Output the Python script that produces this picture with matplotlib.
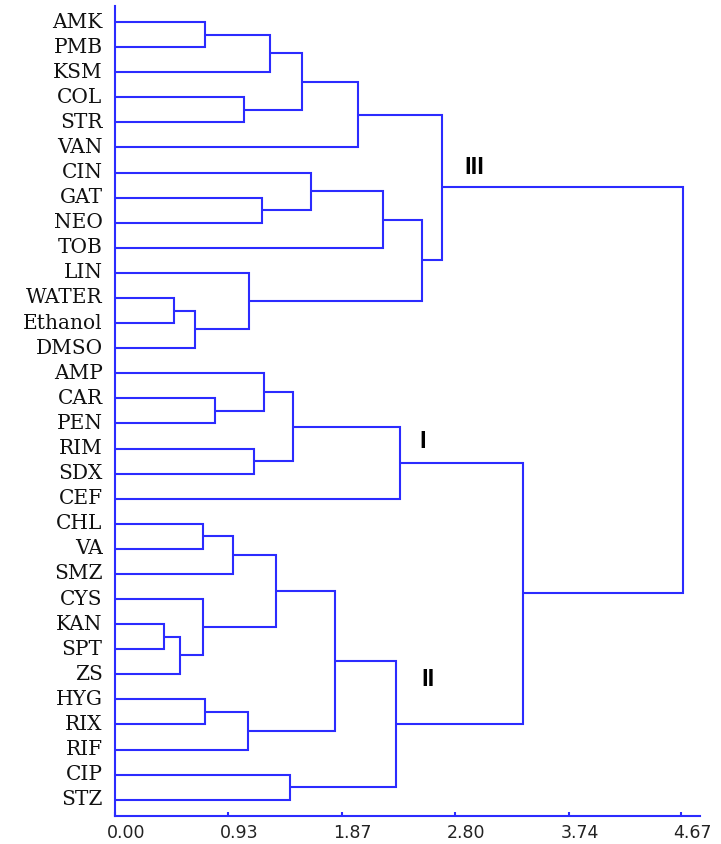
import matplotlib
matplotlib.use("Agg")
import matplotlib.pyplot as plt
import matplotlib.transforms as mtransforms

# ---- data ----
leaf_labels = ["AMK", "PMB", "KSM", "COL", "STR", "VAN", "CIN", "GAT", "NEO", "TOB",
               "LIN", "WATER", "Ethanol", "DMSO", "AMP", "CAR", "PEN", "RIM", "SDX", "CEF",
               "CHL", "VA", "SMZ", "CYS", "KAN", "SPT", "ZS", "HYG", "RIX", "RIF", "CIP", "STZ"]

# merges: (left child, right child, distance); children are leaf names or "nK" (K-th merge)
merge_left = ["AMK", "n0", "COL", "n1", "n3", "GAT", "CIN", "n6", "WATER", "n8", "LIN", "n7", "n4",
              "CAR", "AMP", "RIM", "n14", "n16", "CHL", "n18", "KAN", "n20", "CYS", "n19", "HYG", "n24",
              "n23", "CIP", "n26", "n17", "n12"]
merge_right = ["PMB", "KSM", "STR", "n2", "VAN", "NEO", "n5", "TOB", "Ethanol", "DMSO", "n9", "n10", "n11",
               "PEN", "n13", "SDX", "n15", "CEF", "VA", "SMZ", "SPT", "ZS", "n21", "n22", "RIX", "RIF",
               "n25", "STZ", "n27", "n28", "n29"]
merge_height = [0.74, 1.28, 1.06, 1.545, 2.007, 1.21, 1.614, 2.213, 0.487, 0.66, 1.108, 2.529, 2.70,
                0.825, 1.231, 1.146, 1.465, 2.35, 0.728, 0.976, 0.407, 0.539, 0.723, 1.328, 0.74, 1.097,
                1.814, 1.446, 2.315, 3.362, 4.68]

x_ticks = [0.00, 0.93, 1.87, 2.80, 3.74, 4.67]
x_tick_labels = ["0.00", "0.93", "1.87", "2.80", "3.74", "4.67"]

cluster_names = ["III", "I", "II"]
cluster_nodes = ["n12", "n17", "n28"]

# ---- layout ----
W, H, DPI = 721, 845, 100
fig = plt.figure(figsize=(W / DPI, H / DPI), dpi=DPI)
ax = fig.add_axes([115 / W, 1 - 817 / H, (700 - 115) / W, (817 - 7) / H])

color = "#2b2bff"
lw = 1.5

pos = {name: (0.0, float(i)) for i, name in enumerate(leaf_labels)}
for k, (a, b, h) in enumerate(zip(merge_left, merge_right, merge_height)):
    xa, ya = pos[a]
    xb, yb = pos[b]
    ax.plot([xa, h, h, xb], [ya, ya, yb, yb], color=color, lw=lw,
            solid_joinstyle="miter", solid_capstyle="butt")
    pos["n%d" % k] = (h, (ya + yb) / 2)

ax.set_xlim(0, 4.824)
ax.set_ylim(31.65, -0.64)

for s in ["top", "right"]:
    ax.spines[s].set_visible(False)
for s in ["left", "bottom"]:
    ax.spines[s].set_color(color)
    ax.spines[s].set_linewidth(lw)

ax.set_yticks(range(len(leaf_labels)))
ax.set_yticklabels(leaf_labels, family="DejaVu Serif", fontsize=14.5, color="#111111")
ax.tick_params(axis="y", length=0, pad=9)
for lab in ax.get_yticklabels():
    lab.set_transform(lab.get_transform() + mtransforms.ScaledTranslation(0, 3 / DPI, fig.dpi_scale_trans))

ax.set_xticks(x_ticks)
ax.set_xticklabels(x_tick_labels, family="DejaVu Sans", fontsize=12.5, color="#222222")
ax.tick_params(axis="x", direction="in", length=3, width=lw, color=color, pad=5)
for lab in ax.get_xticklabels():
    lab.set_transform(lab.get_transform() + mtransforms.ScaledTranslation(11 / DPI, 0, fig.dpi_scale_trans))

# cluster labels, placed just right of the node
offsets = {"III": (0.18, -0.85), "I": (0.16, -0.9), "II": (0.21, -1.8)}
for name, node in zip(cluster_names, cluster_nodes):
    nx, ny = pos[node]
    dx, dy = offsets[name]
    ax.text(nx + dx, ny + dy, name, family="Liberation Sans", fontweight="bold",
            fontsize=17, ha="left", va="center", color="black")

fig.savefig("out.png", dpi=DPI)
